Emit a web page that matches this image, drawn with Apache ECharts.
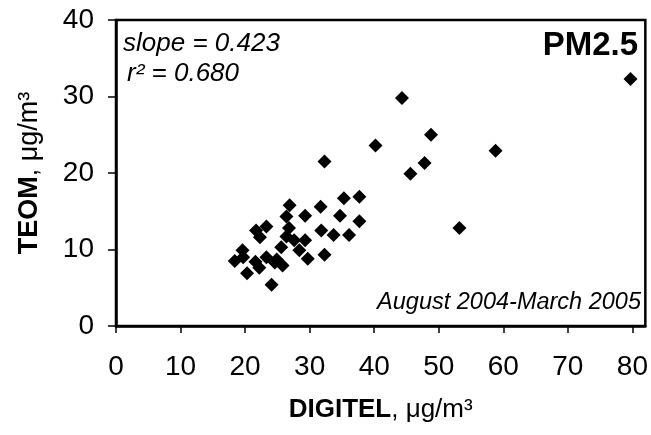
<!DOCTYPE html>
<html><head><meta charset="utf-8">
<script src="https://cdn.jsdelivr.net/npm/echarts@6/dist/echarts.min.js"></script>
<style>html,body{margin:0;padding:0;background:#fff}#c{width:651px;height:435px}</style>
</head><body><div id="c"></div>
<script>
const digitel = [18.4,19.6,19.7,20.3,21.6,21.7,22.3,22.2,23.3,23.3,24.1,24.6,24.9,25.6,25.8,26.4,26.9,26.8,26.4,27.6,28.4,29.3,29.3,29.7,31.7,31.8,32.3,32.3,33.7,34.7,35.3,36.1,37.7,37.7,40.2,44.3,45.6,47.8,48.8,53.2,58.8,79.7];
const teom   = [8.5,9.9,9.0,6.9,8.4,12.5,11.6,7.6,13.0,9.0,5.4,8.3,8.7,10.3,7.9,14.3,15.8,12.8,11.7,11.2,9.9,14.4,11.2,8.8,15.6,12.5,9.3,21.5,11.9,14.4,16.7,11.9,16.9,13.7,23.6,29.8,19.9,21.3,25.0,12.8,22.9,32.3];
const xTicks = [0,10,20,30,40,50,60,70,80];
const yTicks = [0,10,20,30,40];
const points = digitel.map((x,i)=>[x,teom[i]]);
const F = 'Liberation Sans, Arial, sans-serif';
const chart = echarts.init(document.getElementById('c'));
chart.setOption({
  animation:false,
  backgroundColor:'#fff',
  grid:{left:116,right:3,top:20,bottom:109,show:true,borderColor:'#000',borderWidth:2.5,containLabel:false},
  xAxis:{type:'value',min:0,max:82,interval:10,
    axisLine:{show:true,onZero:false,lineStyle:{color:'#000',width:2.5}},
    axisTick:{show:true,inside:false,length:7,lineStyle:{color:'#000',width:1.5},customValues:xTicks},
    axisLabel:{color:'#000',fontSize:28,fontFamily:F,margin:27,customValues:xTicks,formatter:v=>xTicks.includes(v)?String(v):''},
    splitLine:{show:false},
    name:'{b|DIGITEL}{n|, μg/m³}',nameLocation:'middle',nameGap:71,
    nameTextStyle:{rich:{b:{fontSize:26,fontWeight:'bold',fontFamily:F,color:'#000'},n:{fontSize:26,fontFamily:F,color:'#000'}}}
  },
  yAxis:{type:'value',min:0,max:40,interval:10,
    axisLine:{show:true,lineStyle:{color:'#000',width:2.5}},
    axisTick:{show:true,inside:false,length:8,lineStyle:{color:'#000',width:1.5},customValues:yTicks},
    axisLabel:{color:'#000',fontSize:28,fontFamily:F,margin:22,customValues:yTicks},
    splitLine:{show:false},
    name:'{b|TEOM}{n|, μg/m³}',nameLocation:'middle',nameGap:73,
    nameTextStyle:{rich:{b:{fontSize:27,fontWeight:'bold',fontFamily:F,color:'#000'},n:{fontSize:27,fontFamily:F,color:'#000'}}}
  },
  series:[{type:'scatter',data:points,symbol:'diamond',symbolSize:14,itemStyle:{color:'#000',opacity:1}}],
  graphic:[
    {type:'text',left:123,top:31,style:{text:'slope = 0.423',font:'italic 26px '+F,fill:'#000'}},
    {type:'text',left:127,top:61,style:{text:'r² = 0.680',font:'italic 26px '+F,fill:'#000'}},
    {type:'text',right:13,top:29,style:{text:'PM2.5',font:'bold 33px '+F,fill:'#000'}},
    {type:'text',right:10,top:291,style:{text:'August 2004-March 2005',font:'italic 23.5px '+F,fill:'#000'}}
  ]
});
</script></body></html>
